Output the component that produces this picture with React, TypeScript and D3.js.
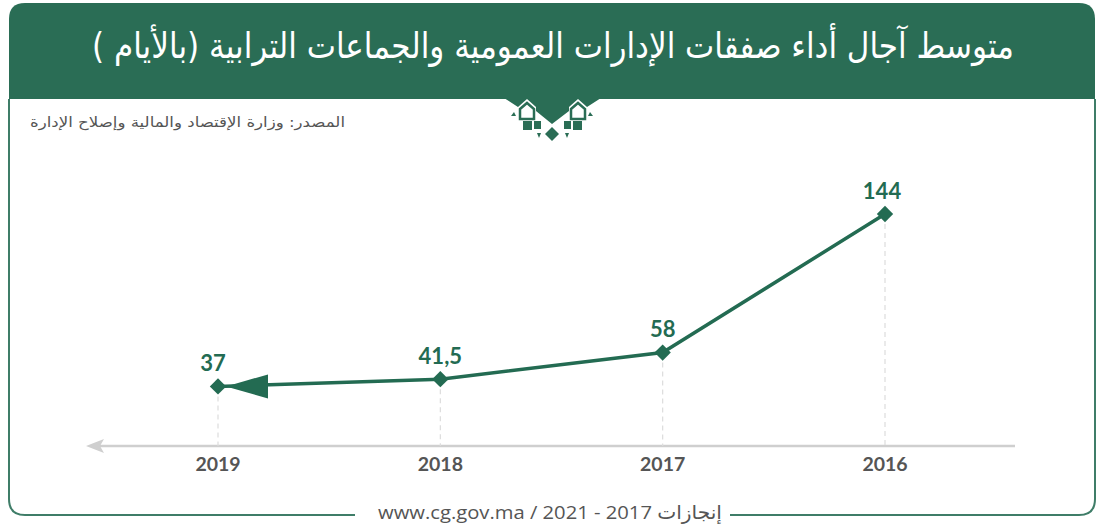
import React from "react";
import * as d3 from "d3";

const years = ["2019", "2018", "2017", "2016"];
const values = [37, 41.5, 58, 144];
const valueLabels = ["37", "41,5", "58", "144"];
const title = "متوسط آجال أداء صفقات الإدارات العمومية والجماعات الترابية (بالأيام )";
const source = "المصدر: وزارة الإقتصاد والمالية وإصلاح الإدارة";
const footer = "www.cg.gov.ma / 2021 - 2017 إنجازات";

const W = 1101;
const H = 526;
const GREEN = "#2a6d55";
const LINE = "#236b52";

export default function App() {
  const x = d3.scalePoint<string>().domain(years).range([218, 885]);
  const y = d3.scaleLinear().domain([0, 144]).range([446, 214]);
  const pts = years.map((yr, i) => [x(yr) as number, y(values[i])] as [number, number]);
  const line = d3.line()(pts) as string;
  const diamond = d3.symbol().type(d3.symbolDiamond2).size(170)() as string;

  const L = 9, R = 1095, T = 3, B = 515, HB = 99, r = 16;
  const header = `M${L},${HB} L${L},${T + r} Q${L},${T} ${L + r},${T} L${R - r},${T} Q${R},${T} ${R},${T + r} L${R},${HB} Z`;
  const frameLeft = `M${L},${HB} L${L},${B - r} Q${L},${B} ${L + r},${B} L355,${B}`;
  const frameRight = `M730,${B} L${R - r},${B} Q${R},${B} ${R},${B - r} L${R},${HB}`;

  const p0 = pts[0];
  const arrow = `M${p0[0] + 8},${p0[1]} L${p0[0] + 50},${p0[1] - 12} L${p0[0] + 50},${p0[1] + 12} Z`;

  return (
    <svg width={W} height={H} style={{ position: "absolute", left: 0, top: 0, background: "#fff" }}>
      <rect x={0} y={0} width={W} height={H} fill="#fff" />
      <path d={header} fill={GREEN} />
      <path d={frameLeft} fill="none" stroke="#3f7d68" strokeWidth={2} />
      <path d={frameRight} fill="none" stroke="#3f7d68" strokeWidth={2} />
      <text
        x={553}
        y={46}
        fill="#fff"
        fontFamily="'DejaVu Sans Condensed', 'DejaVu Sans', sans-serif"
        fontSize={35}
        textAnchor="middle"
        dominantBaseline="central"
        direction="rtl"
        textLength={922}
        lengthAdjust="spacingAndGlyphs"
      >
        {title}
      </text>

      {/* ornament */}
      <g>
        <polygon
          points="504,98 518,107 527,99 536,107 536,111 552,124 569,111 569,107 578,99 587,107 601,98"
          fill={GREEN}
        />
        <polygon points="520,109 527,103 534,109 534,119 520,119" fill="#fff" stroke={GREEN} strokeWidth={2.5} />
        <polygon points="571,109 578,103 585,109 585,119 571,119" fill="#fff" stroke={GREEN} strokeWidth={2.5} />
        <rect x={523} y={121} width={9} height={9} fill={GREEN} />
        <rect x={534} y={121} width={7} height={8} fill={GREEN} />
        <rect x={564} y={121} width={7} height={8} fill={GREEN} />
        <rect x={573} y={121} width={9} height={9} fill={GREEN} />
        <polygon points="552,127 559,134 552,141 545,134" fill={GREEN} />
        <polygon points="537,133 541,133 539,138" fill={GREEN} />
        <polygon points="565,133 569,133 567,138" fill={GREEN} />
        <polygon points="511,116 516,116 514,112" fill={GREEN} />
        <polygon points="588,116 593,116 590,112" fill={GREEN} />
      </g>

      <text
        x={345}
        y={122}
        fill="#555"
        fontFamily="'DejaVu Sans Condensed', 'DejaVu Sans', sans-serif"
        fontSize={14}
        textAnchor="start"
        direction="rtl"
        dominantBaseline="central"
        textLength={315}
        lengthAdjust="spacingAndGlyphs"
      >
        {source}
      </text>

      {/* axis */}
      <line x1={98} y1={446} x2={1015} y2={446} stroke="#cfcfcf" strokeWidth={2.5} />
      <path d="M86,446 L104,439 L100,446 L104,453 Z" fill="#cfcfcf" />
      {years.map((yr, i) => (
        <g key={yr}>
          <line
            x1={pts[i][0]}
            x2={pts[i][0]}
            y1={pts[i][1] + 10}
            y2={446}
            stroke="#dcdcdc"
            strokeWidth={1.2}
            strokeDasharray="5,4"
          />
          <text
            x={pts[i][0]}
            y={463}
            textAnchor="middle"
            dominantBaseline="central"
            fontFamily="Lato, sans-serif"
            fontWeight={700}
            fontSize={19.5}
            fill="#555"
          >
            {yr}
          </text>
        </g>
      ))}

      <path d={line} fill="none" stroke={LINE} strokeWidth={3.5} />
      <path d={arrow} fill={LINE} />
      {pts.map((p, i) => (
        <g key={i}>
          <path d={diamond} transform={`translate(${p[0]},${p[1]})`} fill={LINE} />
          <text
            x={p[0] - (i === 0 ? 5 : i === 3 ? 3 : 0)}
            y={p[1] - 24}
            textAnchor="middle"
            dominantBaseline="central"
            fontFamily="Lato, sans-serif"
            fontWeight={700}
            fontSize={22}
            fill={LINE}
          >
            {valueLabels[i]}
          </text>
        </g>
      ))}

      <text
        x={550}
        y={512}
        textAnchor="middle"
        dominantBaseline="central"
        fontFamily="'Open Sans', 'DejaVu Sans', sans-serif"
        fontSize={19}
        fill="#555"
        direction="ltr"
        textLength={344}
        lengthAdjust="spacingAndGlyphs"
      >
        {footer}
      </text>
    </svg>
  );
}
